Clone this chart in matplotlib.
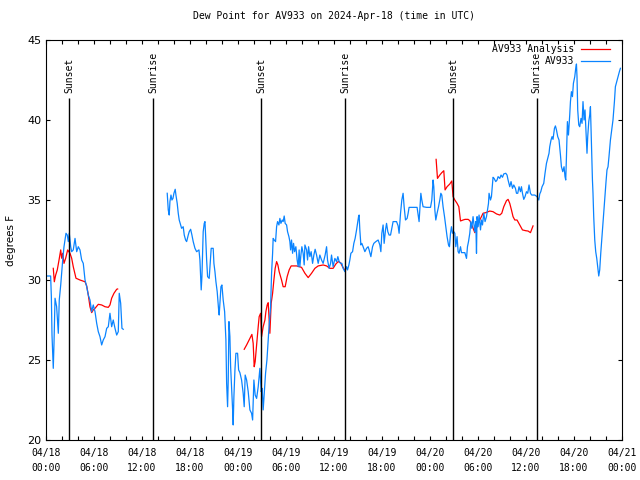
import matplotlib.pyplot as plt
import numpy as np

# hours after 2024-04-18 00:00 UTC, dew point (degrees F)
obs_part1 = [
    (0.08, 30.25), (0.58, 30.25), (0.67, 28.96), (0.75, 26.56), (0.91, 24.48),
    (1.0, 26.04), (1.13, 28.86), (1.33, 28.33), (1.54, 26.67), (1.66, 28.75),
    (1.84, 29.69), (1.96, 30.42), (2.09, 31.25), (2.25, 32.08), (2.5, 32.92),
    (2.66, 32.81), (2.79, 32.4), (2.91, 32.92), (3.09, 32.08), (3.21, 31.77),
    (3.41, 31.88), (3.63, 32.6), (3.84, 31.77), (4.04, 32.08), (4.25, 31.88),
    (4.46, 31.25), (4.66, 31.04), (4.88, 30.0), (5.09, 29.58), (5.29, 29.06),
    (5.5, 28.75), (5.71, 28.02), (5.91, 28.44), (6.13, 28.02), (6.34, 27.29),
    (6.54, 26.77), (6.75, 26.46), (6.96, 25.94), (7.16, 26.25), (7.38, 26.46),
    (7.59, 26.98), (7.79, 27.08), (8.0, 27.92), (8.21, 27.08), (8.41, 27.5),
    (8.63, 26.98), (8.84, 26.56), (9.04, 26.77), (9.16, 29.17), (9.34, 28.54),
    (9.5, 26.98), (9.66, 26.92),
]
obs_part2 = [
    (15.16, 35.42), (15.29, 34.38), (15.41, 34.06), (15.5, 34.9), (15.63, 35.31),
    (15.75, 35.0), (15.88, 35.1), (16.0, 35.42), (16.16, 35.67), (16.25, 35.31),
    (16.41, 34.79), (16.54, 34.17), (16.66, 33.75), (16.84, 33.44), (16.96, 33.23),
    (17.16, 33.33), (17.29, 32.81), (17.46, 32.5), (17.59, 32.4), (17.79, 32.81),
    (17.91, 33.02), (18.09, 33.17), (18.25, 32.81), (18.41, 32.4), (18.63, 31.98),
    (18.84, 31.77), (19.13, 31.88), (19.25, 31.25), (19.34, 30.1), (19.41, 29.38),
    (19.5, 30.21), (19.66, 33.02), (19.79, 33.54), (19.88, 33.65), (19.96, 32.81),
    (20.09, 31.25), (20.21, 30.21), (20.41, 30.1), (20.54, 31.04), (20.66, 31.98),
    (20.91, 31.98), (21.0, 31.04), (21.13, 30.52), (21.25, 29.9), (21.41, 29.27),
    (21.59, 28.13), (21.66, 27.81), (21.75, 28.54), (21.88, 29.58), (22.0, 29.69),
    (22.16, 28.75), (22.34, 28.02), (22.5, 26.25), (22.59, 23.54), (22.71, 22.08),
    (22.79, 23.75), (22.88, 27.4), (23.0, 26.46), (23.09, 24.58), (23.21, 23.33),
    (23.34, 21.88), (23.41, 20.94), (23.5, 22.71), (23.63, 24.38), (23.75, 25.42),
    (23.96, 25.42), (24.09, 24.38), (24.25, 24.21), (24.46, 23.75), (24.66, 22.92),
    (24.79, 22.08), (24.91, 24.06), (25.09, 23.75), (25.29, 23.02), (25.5, 21.88),
    (25.71, 21.67), (25.84, 21.25), (26.0, 23.75), (26.16, 22.81), (26.34, 22.6),
    (26.54, 23.33), (26.75, 24.48), (26.91, 23.02), (27.04, 23.23), (27.16, 21.88),
    (27.29, 22.92), (27.46, 24.17), (27.63, 25.0), (27.79, 26.25), (27.91, 27.19),
    (28.09, 28.33), (28.21, 30.42), (28.34, 31.67), (28.41, 32.6), (28.54, 32.5),
    (28.71, 32.4), (28.84, 33.33), (28.96, 33.65), (29.13, 33.44), (29.25, 33.85),
    (29.38, 33.54), (29.54, 33.75), (29.66, 33.65), (29.79, 34.0), (29.91, 33.54),
    (30.09, 33.44), (30.21, 33.02), (30.38, 32.71), (30.5, 32.4), (30.59, 31.88),
    (30.71, 32.5), (30.84, 31.67), (30.96, 32.29), (31.09, 31.77), (31.25, 32.08),
    (31.41, 31.25), (31.54, 30.83), (31.66, 31.88), (31.75, 30.83), (31.88, 31.56),
    (32.0, 32.08), (32.16, 31.67), (32.29, 30.94), (32.38, 32.19), (32.59, 31.88),
    (32.71, 31.25), (32.84, 32.08), (33.0, 31.46), (33.16, 31.77), (33.34, 31.04),
    (33.5, 31.56), (33.66, 31.92), (33.84, 31.56), (34.04, 31.04), (34.25, 31.56),
    (34.46, 31.25), (34.66, 31.04), (34.91, 31.56), (35.09, 32.08), (35.21, 31.25),
    (35.41, 30.73), (35.59, 31.04), (35.71, 31.56), (35.91, 30.83), (36.13, 31.35),
    (36.34, 31.15), (36.5, 31.46), (36.66, 31.15), (36.84, 31.04), (37.0, 31.04),
    (37.16, 30.73), (37.38, 30.52), (37.59, 30.83), (37.71, 30.63), (37.88, 30.94),
    (38.0, 31.25), (38.13, 31.67), (38.34, 31.77), (38.5, 32.29), (38.66, 32.6),
    (38.84, 33.13), (38.96, 33.54), (39.09, 33.96), (39.16, 34.06), (39.25, 33.13),
    (39.38, 32.19), (39.5, 32.29), (39.66, 32.08), (39.88, 31.77), (40.09, 31.98),
    (40.29, 32.08), (40.41, 31.88), (40.63, 31.46), (40.84, 32.08), (41.0, 32.29),
    (41.25, 32.4), (41.54, 32.5), (41.75, 32.19), (41.88, 31.77), (42.0, 32.92),
    (42.16, 33.44), (42.29, 32.29), (42.46, 33.13), (42.59, 33.54), (42.75, 33.02),
    (42.91, 32.81), (43.09, 32.81), (43.29, 33.33), (43.41, 33.65), (43.84, 33.65),
    (44.04, 33.38), (44.16, 32.92), (44.34, 34.17), (44.5, 35.0), (44.66, 35.42),
    (44.79, 34.58), (44.96, 33.75), (45.16, 33.85), (45.29, 34.17), (45.41, 34.54),
    (45.91, 34.54), (46.41, 34.54), (46.54, 34.06), (46.66, 33.65), (46.75, 34.38),
    (46.88, 35.42), (47.0, 35.0), (47.16, 34.58), (47.59, 34.54), (48.09, 34.54),
    (48.25, 35.0), (48.34, 35.73), (48.41, 36.25), (48.5, 35.83), (48.63, 34.38),
    (48.75, 33.75), (48.91, 34.17), (49.09, 34.58), (49.25, 35.0), (49.38, 35.42),
    (49.5, 35.31), (49.66, 34.58), (49.84, 33.96), (50.0, 33.33), (50.16, 32.71),
    (50.34, 32.19), (50.46, 32.08), (50.59, 32.92), (50.71, 33.33), (50.84, 32.92),
    (51.0, 33.02), (51.13, 32.92), (51.25, 32.08), (51.41, 32.71), (51.54, 31.77),
    (51.66, 31.67), (51.84, 32.08), (51.96, 31.71), (52.38, 31.71), (52.59, 31.35),
    (52.71, 32.08), (52.84, 32.4), (53.0, 32.92), (53.13, 33.65), (53.25, 33.23),
    (53.41, 33.96), (53.63, 33.02), (53.75, 33.65), (53.84, 31.67), (53.91, 33.96),
    (54.04, 33.33), (54.16, 34.06), (54.34, 33.13), (54.46, 33.75), (54.59, 33.44),
    (54.75, 34.17), (54.91, 33.65), (55.09, 33.96), (55.21, 34.38), (55.34, 34.79),
    (55.41, 35.42), (55.59, 35.0), (55.71, 35.21), (55.91, 36.42), (56.04, 36.35),
    (56.25, 36.15), (56.41, 36.25), (56.54, 36.46), (56.75, 36.35), (56.91, 36.56),
    (57.09, 36.42), (57.25, 36.63), (57.5, 36.67), (57.66, 36.56), (57.79, 36.25),
    (58.0, 35.83), (58.16, 36.15), (58.34, 35.73), (58.5, 35.94), (58.71, 35.73),
    (58.84, 35.42), (59.0, 35.42), (59.16, 35.83), (59.34, 35.52), (59.46, 35.83),
    (59.59, 35.42), (59.75, 35.04), (59.91, 35.21), (60.09, 35.52), (60.25, 35.42),
    (60.41, 35.94), (60.59, 35.42), (60.75, 35.31), (61.13, 35.31), (61.41, 35.21),
    (61.63, 35.0), (61.75, 35.38), (61.88, 35.52), (62.04, 35.83), (62.25, 36.04),
    (62.41, 36.67), (62.59, 37.29), (62.75, 37.6), (62.91, 37.92), (63.0, 38.33),
    (63.16, 38.75), (63.29, 38.96), (63.41, 38.79), (63.59, 39.48), (63.71, 39.63),
    (63.84, 39.38), (64.0, 38.96), (64.16, 38.75), (64.34, 37.81), (64.46, 37.08),
    (64.63, 36.77), (64.79, 37.08), (64.91, 36.46), (65.0, 36.25), (65.09, 37.71),
    (65.21, 39.9), (65.34, 39.06), (65.5, 40.31), (65.59, 41.15), (65.71, 41.77),
    (65.84, 41.46), (65.96, 42.29), (66.13, 42.71), (66.25, 43.23), (66.34, 43.5),
    (66.41, 42.71), (66.5, 40.63), (66.63, 39.69), (66.75, 39.58), (66.91, 40.1),
    (67.04, 39.79), (67.16, 41.15), (67.29, 40.0), (67.41, 40.63), (67.54, 39.17),
    (67.66, 37.92), (67.75, 38.96), (67.88, 39.9), (68.0, 40.31), (68.09, 40.83),
    (68.16, 39.58), (68.25, 38.13), (68.34, 36.25), (68.41, 35.42), (68.5, 33.96),
    (68.63, 32.5), (68.75, 31.77), (68.88, 31.35), (69.0, 30.83), (69.13, 30.25),
    (69.25, 30.63), (69.38, 31.67), (69.5, 32.5), (69.66, 33.54), (69.79, 34.58),
    (69.91, 35.31), (70.04, 36.15), (70.16, 36.88), (70.29, 37.08), (70.41, 37.71),
    (70.59, 38.75), (70.75, 39.38), (70.91, 40.0), (71.09, 41.15), (71.21, 42.08),
    (71.38, 42.4), (71.54, 42.71), (71.71, 43.02), (71.84, 43.23),
]

ana_part1 = [
    (0.91, 30.73), (1.04, 29.89), (1.21, 30.31), (1.41, 30.63), (1.63, 31.25),
    (1.84, 31.88), (1.96, 31.36), (2.09, 31.67), (2.25, 31.04), (2.46, 31.36),
    (2.71, 31.88), (3.0, 31.67), (3.21, 31.36), (3.41, 30.83), (3.75, 30.11),
    (4.25, 30.0), (4.88, 29.89), (5.09, 29.63), (5.29, 29.06), (5.5, 28.33),
    (5.71, 27.96), (5.91, 28.13), (6.13, 28.23), (6.54, 28.48), (6.96, 28.44),
    (7.38, 28.33), (7.79, 28.29), (8.0, 28.44), (8.21, 28.86), (8.5, 29.17),
    (8.84, 29.42), (8.96, 29.44),
]
ana_part2 = [
    (24.79, 25.67), (25.09, 25.94), (25.5, 26.35), (25.75, 26.6), (25.91, 26.04),
    (26.04, 24.58), (26.16, 24.9), (26.34, 25.94), (26.54, 27.08), (26.66, 27.71),
    (26.84, 27.92), (26.96, 26.46), (27.16, 27.08), (27.38, 27.5), (27.5, 28.02),
    (27.66, 28.44), (27.79, 28.58), (28.0, 26.67), (28.16, 28.54), (28.34, 29.17),
    (28.5, 30.0), (28.66, 30.73), (28.84, 31.15), (29.0, 30.94), (29.16, 30.52),
    (29.46, 30.0), (29.66, 29.58), (29.91, 29.58), (30.16, 30.21), (30.41, 30.63),
    (30.66, 30.88), (31.34, 30.88), (31.96, 30.79), (32.38, 30.42), (32.79, 30.15),
    (33.21, 30.42), (33.63, 30.73), (34.04, 30.88), (34.66, 30.94), (35.09, 30.88),
    (35.5, 30.73), (35.91, 30.73), (36.25, 31.0), (36.54, 31.15), (36.84, 31.08),
    (37.09, 30.83), (37.41, 30.58),
]
ana_part3 = [
    (48.79, 37.54), (48.96, 36.35), (49.25, 36.56), (49.5, 36.71), (49.75, 36.83),
    (49.91, 35.63), (50.16, 35.83), (50.5, 36.0), (50.75, 36.19), (50.91, 35.21),
    (51.13, 35.0), (51.41, 34.79), (51.63, 34.58), (51.84, 33.69), (52.16, 33.75),
    (52.41, 33.79), (52.79, 33.79), (53.0, 33.71), (53.34, 33.33), (53.63, 32.96),
    (53.91, 33.33), (54.25, 33.75), (54.66, 34.17), (55.0, 34.21), (55.5, 34.31),
    (55.91, 34.27), (56.34, 34.13), (56.75, 34.06), (57.0, 34.17), (57.25, 34.58),
    (57.59, 34.96), (57.79, 35.04), (58.0, 34.79), (58.21, 34.38), (58.41, 33.96),
    (58.63, 33.75), (58.91, 33.75), (59.25, 33.44), (59.59, 33.13), (60.0, 33.08),
    (60.29, 33.06), (60.59, 32.96), (60.75, 33.17), (60.91, 33.38),
]

sun_hours = [2.9, 13.4, 26.9, 37.4, 50.9, 61.35]
sun_names = ["Sunset", "Sunrise", "Sunset", "Sunrise", "Sunset", "Sunrise"]

tick_hours = list(range(0, 73, 6))
tick_labels = ["04/18\n00:00", "04/18\n06:00", "04/18\n12:00", "04/18\n18:00",
               "04/19\n00:00", "04/19\n06:00", "04/19\n12:00", "04/19\n18:00",
               "04/20\n00:00", "04/20\n06:00", "04/20\n12:00", "04/20\n18:00",
               "04/21\n00:00"]

MONO = "DejaVu Sans Mono"
RED = "#ff0000"
BLUE = "#0a84ff"


def with_gaps(parts):
    # join segments with a NaN so the line breaks between them
    t, v = [], []
    for p in parts:
        if t:
            t.append(np.nan)
            v.append(np.nan)
        t += [a for a, b in p]
        v += [b for a, b in p]
    return t, v


fig = plt.figure(figsize=(6.4, 4.8), dpi=100)
ax = fig.add_axes([46 / 640, 40 / 480, 575.7 / 640, 400 / 480])

ana_t, ana_v = with_gaps([ana_part1, ana_part2, ana_part3])
obs_t, obs_v = with_gaps([obs_part1, obs_part2])
ax.plot(ana_t, ana_v, color=RED, lw=0.9, label="AV933 Analysis")
ax.plot(obs_t, obs_v, color=BLUE, lw=0.9, label="AV933")

for h, name in zip(sun_hours, sun_names):
    ax.vlines(h, 20, 41.4, color="black", lw=1.0)
    ax.text(h, 41.7, name, rotation=90, ha="center", va="bottom",
            fontsize=7, family=MONO)

ax.set_xlim(0, 72)
ax.set_ylim(20, 45)
ax.set_xticks(tick_hours)
ax.set_xticklabels(tick_labels, family=MONO, fontsize=7, linespacing=1.6)
ax.set_xticks(range(0, 73, 2), minor=True)
ax.set_yticks(range(20, 46, 5))
for lab in ax.get_yticklabels():
    lab.set_fontsize(8)
ax.tick_params(which="both", direction="in", top=True, right=True,
               length=3, width=0.8)
ax.tick_params(axis="x", pad=6)
ax.set_ylabel("degrees F", fontsize=7.5, labelpad=8)
ax.set_title("Dew Point for AV933 on 2024-Apr-18 (time in UTC)",
             family=MONO, fontsize=7, pad=15)

ax.legend(loc="upper right", bbox_to_anchor=(1 - 12 / 575.7, 1 - 4 / 400),
          frameon=False, markerfirst=False, borderpad=0, borderaxespad=0,
          handlelength=3.0, handletextpad=0.6, labelspacing=0.25,
          prop={"family": MONO, "size": 7})

fig.savefig("out.png", dpi=100)
